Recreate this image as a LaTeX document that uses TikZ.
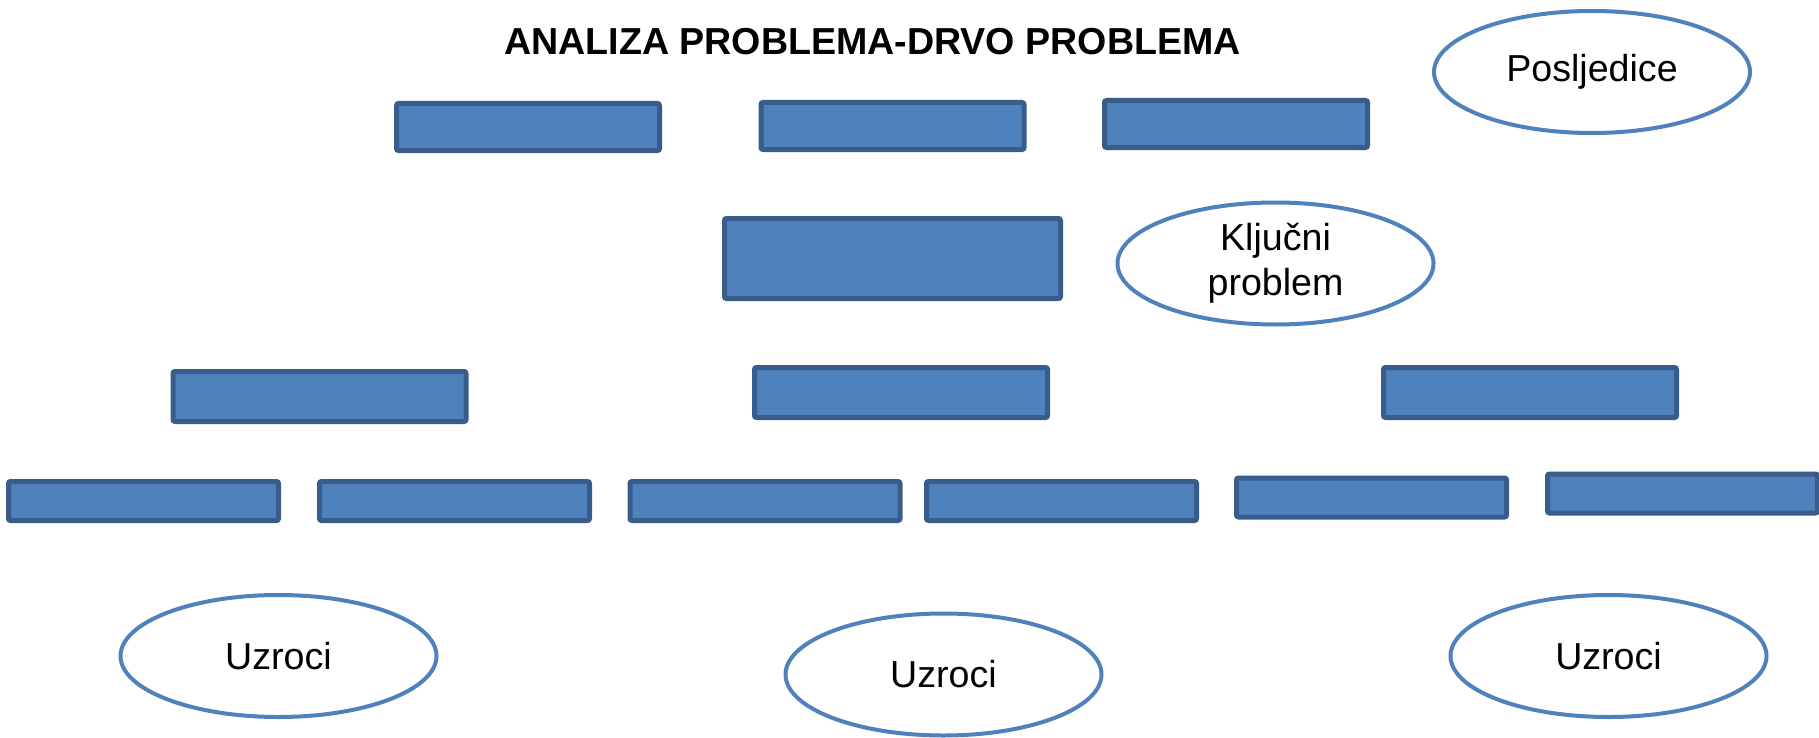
\documentclass[tikz,border=0pt]{standalone}
\usepackage{fontspec}
\setmainfont{Liberation Sans}
\usetikzlibrary{shapes.geometric}
\definecolor{blokplava}{HTML}{4F81BD}
\definecolor{blokrub}{HTML}{385D8A}
\begin{document}
\begin{tikzpicture}[x=0.5pt, y=-0.5pt,
  blok/.style={rectangle, draw=blokrub, fill=blokplava, line width=2.5pt,
    rounded corners=1pt, inner sep=0pt},
  plitki/.style={blok, minimum width=135pt, minimum height=19.5pt},
  srednji/.style={blok, minimum width=146.5pt, minimum height=25pt},
  gornji/.style={blok, minimum width=131.5pt, minimum height=23.5pt},
  elipsa/.style={ellipse, draw=blokplava, line width=2pt, fill=white,
    minimum width=158pt, minimum height=61pt, inner sep=0pt, align=center,
    font=\fontsize{18.8}{22.5}\selectfont}]
  \useasboundingbox (0,0) rectangle (1819,738);
  \node[anchor=base, font=\fontsize{18.8}{22.5}\selectfont\bfseries] (naslov) at (872.5,55)
    {ANALIZA PROBLEMA-DRVO PROBLEMA};
  \node[gornji] (posljedica1) at (528,127) {};
  \node[gornji] (posljedica2) at (892.5,126) {};
  \node[gornji] (posljedica3) at (1236,124) {};
  \node[elipsa] (posljedice) at (1592,72) {Posljedice};
  \node[blok, minimum width=168pt, minimum height=40pt] (problem) at (892.5,258.5) {};
  \node[elipsa] (kljucni) at (1275.5,263.5) {Ključni\\problem};
  \node[srednji] (uzrok1) at (319.5,396.5) {};
  \node[srednji] (uzrok2) at (901,392.5) {};
  \node[srednji] (uzrok3) at (1530,392.5) {};
  \node[plitki] (uzrok11) at (143.5,501) {};
  \node[plitki] (uzrok12) at (454.5,501) {};
  \node[plitki] (uzrok21) at (765,501) {};
  \node[plitki] (uzrok22) at (1061.5,501) {};
  \node[plitki] (uzrok31) at (1371.5,497.5) {};
  \node[plitki] (uzrok32) at (1682.5,493.5) {};
  \node[elipsa] (uzroci1) at (278.5,656) {Uzroci};
  \node[elipsa] (uzroci2) at (943.5,674.5) {Uzroci};
  \node[elipsa] (uzroci3) at (1608.5,656) {Uzroci};
\end{tikzpicture}
\end{document}
